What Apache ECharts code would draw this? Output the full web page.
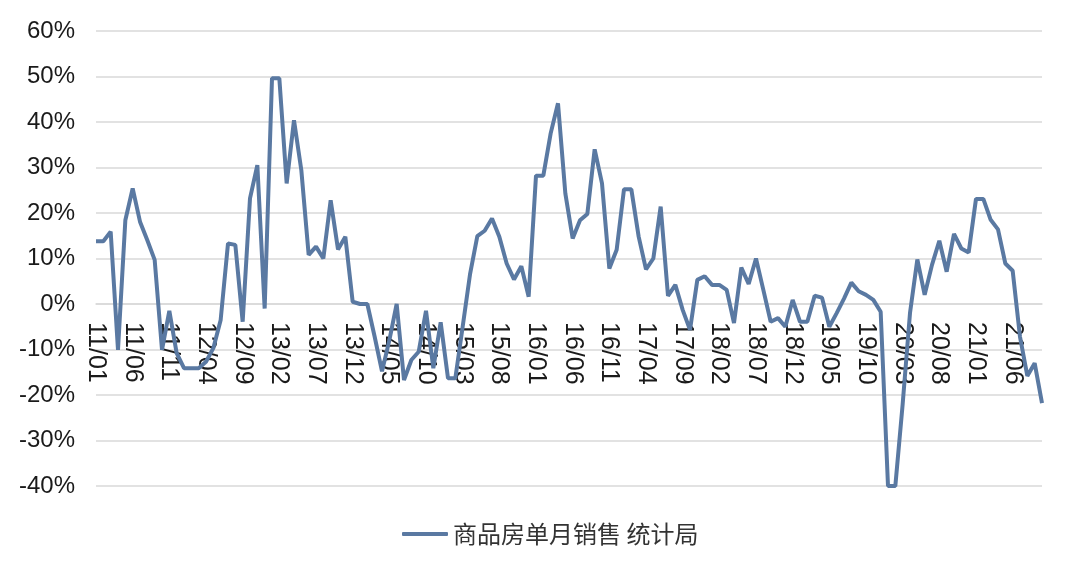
<!DOCTYPE html>
<html>
<head>
<meta charset="utf-8">
<script src="https://cdn.jsdelivr.net/npm/echarts@6/dist/echarts.min.js"></script>
<style>
  html, body { margin: 0; padding: 0; background: #fff; }
  #chart { width: 1080px; height: 574px; }
</style>
</head>
<body>
<div id="chart"></div>
<script type="text/javascript">
    // 月份：2011/01 - 2021/10
    var months = [];
    for (var y = 11; y <= 21; y++) {
        for (var m = 1; m <= 12; m++) {
            if (y === 21 && m > 10) break;
            months.push(y + '/' + (m < 10 ? '0' + m : m));
        }
    }

    var seriesName = '商品房单月销售 统计局';

    // 单月同比（%）
    var salesYoY = [
        13.8, 13.8, 15.9, -10.1, 18.4, 25.4, 18.1, 14, 9.7, -10.1, -1.5, -10.8,
        -14.1, -14.1, -14.1, -12.7, -9.7, -3.5, 13.3, 13, -3.9, 23.2, 30.5, -1,
        49.6, 49.6, 26.5, 40.4, 29.4, 10.8, 12.6, 10, 22.8, 12, 14.8, 0.5,
        0, 0, -7.2, -14.8, -8, 0, -16.7, -12.3, -10.5, -1.5, -14.1, -4,
        -16.3, -16.3, -5, 6.5, 14.9, 16.1, 18.8, 14.8, 8.9, 5.4, 8.3, 1.6,
        28.2, 28.2, 37.5, 44.1, 24.3, 14.4, 18.4, 19.8, 34, 26.5, 7.8, 11.9,
        25.2, 25.2, 14.8, 7.6, 10, 21.4, 1.8, 4.2, -1.3, -5.7, 5.3, 6.1,
        4.2, 4.2, 3.1, -4.2, 8, 4.4, 10, 3.1, -3.9, -3.1, -5, 0.9,
        -3.9, -3.9, 1.8, 1.4, -5, -2, 1.2, 4.7, 2.8, 2, 0.9, -1.7,
        -40, -40, -22, -2, 9.8, 2, 8.6, 13.9, 7.1, 15.4, 12.2, 11.3,
        23.1, 23.1, 18.5, 16.4, 8.9, 7.3, -7.2, -15.8, -13, -21.8
    ];

    var yMin = -40, yMax = 60, yStep = 10;
    var gridTop = 31, gridBottom = 88;
    var plotHeight = 574 - gridTop - gridBottom;
    // 横轴放在 0% 处
    var xAxisOffset = -(0 - yMin) / (yMax - yMin) * plotHeight;

    var myChart = echarts.init(document.getElementById('chart'));
    var option = {
        backgroundColor: '#fff',
        animation: false,
        textStyle: { fontFamily: 'Liberation Sans, Arial, "Noto Sans CJK SC", sans-serif' },
        grid: {
            left: 96,
            right: 38,
            top: gridTop,
            bottom: gridBottom
        },
        legend: {
            bottom: 23,
            left: 397,
            icon: 'roundRect',
            itemWidth: 46,
            itemHeight: 4,
            itemGap: 8,
            textStyle: {
                fontSize: 24,
                color: '#333',
                fontFamily: '"Noto Sans CJK SC", sans-serif'
            },
            data: [seriesName]
        },
        xAxis: {
            type: 'category',
            data: months,
            boundaryGap: false,
            position: 'bottom',
            offset: xAxisOffset,
            axisLine: {
                onZero: false,
                lineStyle: { color: '#d9d9d9', width: 1.5 }
            },
            axisTick: { show: false },
            axisLabel: {
                interval: 4,
                rotate: -90,
                margin: 18,
                fontSize: 25,
                color: '#1a1a1a'
            },
            splitLine: { show: false }
        },
        yAxis: {
            type: 'value',
            min: yMin,
            max: yMax,
            interval: yStep,
            axisLine: { show: false },
            axisTick: { show: false },
            axisLabel: {
                formatter: '{value}%',
                margin: 21,
                fontSize: 24,
                color: '#1a1a1a'
            },
            splitLine: {
                lineStyle: { color: '#d9d9d9', width: 1.5 }
            }
        },
        series: [
            {
                name: seriesName,
                type: 'line',
                data: salesYoY,
                symbol: 'none',
                z: 5,
                lineStyle: { color: '#5a79a2', width: 4 },
                itemStyle: { color: '#5a79a2' }
            }
        ]
    };
    myChart.setOption(option);
</script>
</body>
</html>
